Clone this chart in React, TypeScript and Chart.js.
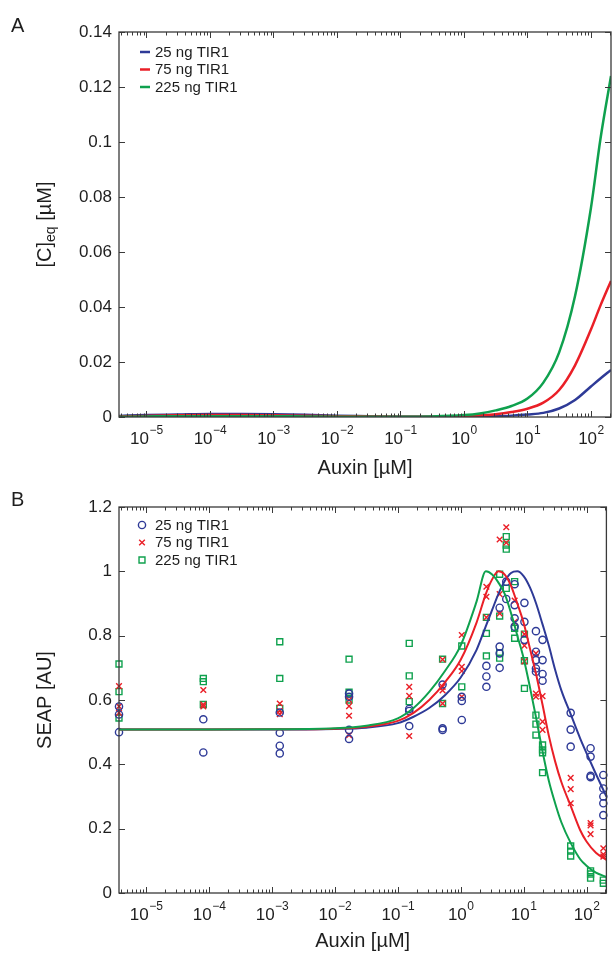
import React, { useEffect, useRef } from 'react';
import { Chart, registerables } from 'chart.js';

Chart.register(...registerables);

const FONT = '"Liberation Sans", Arial, Helvetica, sans-serif';
const BLUE = '#2E3A97';
const RED = '#EA1F27';
const GREEN = '#0FA14E';
const AXIS = '#3a3a3a';
const TEXT = '#1e1e1e';

const X_MIN = 3.7e-6;
const X_MAX = 207;
const xDecades = [-5, -4, -3, -2, -1, 0, 1, 2];

// ---------- Panel A: model complex [C]eq ----------
const auxinA = [3.7e-6, 1e-5, 3.16e-5, 1e-4, 3.16e-4, 1e-3, 3.16e-3, 1e-2, 3.16e-2, 0.1, 0.316, 1, 1.78, 3.16, 5.62, 10, 17.8, 31.6, 56.2, 100, 141, 207];
const cEq25 = [0.0004, 0.0007, 0.0009, 0.0011, 0.0011, 0.001, 0.0008, 0.0005, 0.0003, 0.0001, 0.0001, 0.0001, 0.0002, 0.0003, 0.0005, 0.0009, 0.0015, 0.0031, 0.0062, 0.0111, 0.014, 0.0171];
const cEq75 = [0.0002, 0.0004, 0.0006, 0.0007, 0.0007, 0.0006, 0.0005, 0.0003, 0.0002, 0.0001, 0.0001, 0.0003, 0.0006, 0.001, 0.0018, 0.003, 0.0052, 0.0098, 0.0188, 0.0318, 0.0405, 0.0495];
const cEq225 = [0.0001, 0.0002, 0.0003, 0.0003, 0.0003, 0.0003, 0.0002, 0.0001, 0.0001, 0.0001, 0.0002, 0.0007, 0.0013, 0.0024, 0.004, 0.0067, 0.0125, 0.0235, 0.044, 0.076, 0.101, 0.124];
const yTicksA = [0, 0.02, 0.04, 0.06, 0.08, 0.1, 0.12, 0.14];

// ---------- Panel B: SEAP measurements (replicates per concentration) ----------
const concB = [3.7e-6, 8.1e-5, 1.33e-3, 1.68e-2, 0.152, 0.515, 1.04, 2.56, 4.16, 5.3, 7.2, 10.3, 15.7, 20, 56, 116, 185];
const seap25 = [
  [0.58, 0.555, 0.5], [0.54, 0.437], [0.561, 0.498, 0.458, 0.434], [0.62, 0.61, 0.507, 0.479],
  [0.572, 0.566, 0.519], [0.648, 0.512, 0.507], [0.61, 0.597, 0.538], [0.706, 0.673, 0.641],
  [0.887, 0.766, 0.745, 0.7], [0.968, 0.914], [0.96, 0.895, 0.854, 0.828], [0.902, 0.843, 0.787],
  [0.814, 0.75, 0.724, 0.698, 0.688], [0.787, 0.724, 0.681, 0.66], [0.56, 0.508, 0.455],
  [0.45, 0.424, 0.364, 0.36], [0.367, 0.325, 0.3, 0.279, 0.242],
];
const seap75 = [
  [0.643, 0.58, 0.56], [0.631, 0.586, 0.58], [0.589, 0.566, 0.556], [0.6, 0.581, 0.551, 0.491],
  [0.641, 0.613, 0.488], [0.726, 0.641, 0.63, 0.589], [0.802, 0.703, 0.69, 0.61], [0.952, 0.921, 0.857],
  [1.099, 0.929, 0.869], [1.137, 1.089], [0.909, 0.843], [0.805, 0.769, 0.72],
  [0.745, 0.62, 0.61], [0.612, 0.533, 0.507], [0.358, 0.323, 0.279],
  [0.217, 0.21, 0.183], [0.139, 0.12, 0.113],
];
const seap225 = [
  [0.712, 0.626, 0.544], [0.667, 0.657, 0.586], [0.781, 0.667, 0.574], [0.727, 0.624, 0.6],
  [0.776, 0.675, 0.595], [0.727, 0.589], [0.768, 0.641], [0.857, 0.807, 0.737],
  [0.991, 0.861, 0.747, 0.73], [1.108, 1.082, 1.069, 0.947], [0.968, 0.823, 0.792], [0.805, 0.722, 0.636],
  [0.553, 0.525, 0.491], [0.46, 0.445, 0.436, 0.374], [0.146, 0.13, 0.115],
  [0.069, 0.059, 0.046], [0.04, 0.03],
];
// fitted model curves
const fitX = [3.7e-6, 1e-4, 1e-3, 1e-2, 3.16e-2, 0.1, 0.178, 0.316, 0.562, 1, 1.78, 2.51, 3.16, 3.98, 5.01, 6.31, 7.94, 10, 12.6, 15.8, 20, 25.1, 31.6, 39.8, 56.2, 79.4, 100, 141, 207];
const fit25 = [0.508, 0.508, 0.508, 0.51, 0.514, 0.528, 0.548, 0.575, 0.615, 0.67, 0.755, 0.83, 0.88, 0.93, 0.97, 0.995, 1.0, 0.985, 0.95, 0.9, 0.835, 0.77, 0.695, 0.63, 0.555, 0.48, 0.435, 0.37, 0.3];
const fit75 = [0.508, 0.508, 0.509, 0.511, 0.517, 0.535, 0.56, 0.6, 0.655, 0.725, 0.84, 0.93, 0.975, 1.0, 0.99, 0.955, 0.9, 0.84, 0.76, 0.68, 0.585, 0.49, 0.41, 0.345, 0.27, 0.195, 0.16, 0.125, 0.103];
const fit225 = [0.508, 0.508, 0.509, 0.512, 0.52, 0.543, 0.575, 0.625, 0.69, 0.77, 0.905, 1.0, 0.99, 0.965, 0.93, 0.87, 0.8, 0.73, 0.64, 0.545, 0.44, 0.35, 0.28, 0.22, 0.155, 0.105, 0.085, 0.063, 0.05];
const yTicksB = [0, 0.2, 0.4, 0.6, 0.8, 1, 1.2];

const seriesLabels = ['25 ng TIR1', '75 ng TIR1', '225 ng TIR1'];

// ---------- helpers ----------
const isDecade = (v: number) => Math.abs(Math.log10(v) - Math.round(Math.log10(v))) < 1e-6;

const xTickValues: number[] = [];
for (let d = xDecades[0] - 1; d <= xDecades[xDecades.length - 1]; d++) {
  for (let m = 1; m <= 9; m++) {
    const v = m * Math.pow(10, d);
    if (v >= X_MIN && v <= X_MAX) xTickValues.push(v);
  }
}

const pts = (xs: number[], ys: number[]) => xs.map((x, i) => ({ x, y: ys[i] }));
const reps = (cols: number[][]) => cols.flatMap((vals, i) => vals.map((y) => ({ x: concB[i], y })));

function xAxis(height: number) {
  return {
    type: 'logarithmic',
    min: X_MIN,
    max: X_MAX,
    afterBuildTicks: (s: any) => { s.ticks = xTickValues.map((v) => ({ value: v })); },
    afterFit: (s: any) => { s.height = height; },
    // decade labels (10 with a raised exponent) are drawn by the decor plugin
    ticks: { display: false, autoSkip: false, maxRotation: 0, minRotation: 0 },
    grid: { display: false, drawTicks: false },
    border: { display: false },
    title: { display: true, text: 'Auxin [µM]', color: TEXT, font: { family: FONT, size: 20 }, padding: { top: 0, bottom: 0 } },
  };
}

function yAxis(max: number, ticks: number[], title: any) {
  return {
    type: 'linear',
    min: 0,
    max,
    afterBuildTicks: (s: any) => { s.ticks = ticks.map((v) => ({ value: v })); },
    afterFit: (s: any) => { s.width = 119; },
    ticks: { padding: 7, color: TEXT, font: { family: FONT, size: 17 }, callback: (v: any) => String(+Number(v).toFixed(3)) },
    grid: { display: false, drawTicks: false },
    border: { display: false },
    title,
  };
}

function drawMarker(ctx: CanvasRenderingContext2D, style: string, x: number, y: number, r: number, color: string, lw: number) {
  ctx.save();
  ctx.strokeStyle = color;
  ctx.lineWidth = lw;
  ctx.beginPath();
  if (style === 'circle') {
    ctx.arc(x, y, r, 0, Math.PI * 2);
  } else if (style === 'crossRot') {
    const o = r * Math.SQRT1_2;
    ctx.moveTo(x - o, y - o); ctx.lineTo(x + o, y + o);
    ctx.moveTo(x + o, y - o); ctx.lineTo(x - o, y + o);
  } else {
    const s = r * Math.SQRT1_2;
    ctx.rect(x - s, y - s, 2 * s, 2 * s);
  }
  ctx.stroke();
  ctx.restore();
}

// frame, inward tick marks, decade tick labels, panel letter, custom y-title, legend
const decor = {
  id: 'decor',
  afterDraw(chart: any, _args: any, opts: any) {
    const { ctx, chartArea } = chart;
    const { left, right, top, bottom } = chartArea;
    const xs = chart.scales.x;
    const ys = chart.scales.y;
    ctx.save();
    ctx.strokeStyle = AXIS;
    ctx.lineWidth = 1;
    ctx.beginPath();
    xs.ticks.forEach((t: any) => {
      const px = Math.round(xs.getPixelForValue(t.value)) + 0.5;
      const len = isDecade(t.value) ? 6 : 3.5;
      ctx.moveTo(px, bottom); ctx.lineTo(px, bottom - len);
      ctx.moveTo(px, top); ctx.lineTo(px, top + len);
    });
    ys.ticks.forEach((t: any) => {
      const py = Math.round(ys.getPixelForValue(t.value)) + 0.5;
      ctx.moveTo(left, py); ctx.lineTo(left + 6, py);
      ctx.moveTo(right, py); ctx.lineTo(right - 6, py);
    });
    ctx.stroke();
    ctx.lineWidth = 1.3;
    ctx.strokeRect(left, top, right - left, bottom - top);

    // x decade labels: "10" with superscript exponent
    ctx.fillStyle = TEXT;
    ctx.textAlign = 'left';
    ctx.textBaseline = 'alphabetic';
    const base = bottom + 26.5;
    xDecades.forEach((d) => {
      const px = xs.getPixelForValue(Math.pow(10, d));
      const expo = d < 0 ? '\u2212' + String(-d) : String(d);
      ctx.font = `17px ${FONT}`;
      const w1 = ctx.measureText('10').width;
      ctx.font = `12px ${FONT}`;
      const w2 = ctx.measureText(expo).width;
      const x0 = px - (w1 + w2) / 2;
      ctx.font = `17px ${FONT}`;
      ctx.fillText('10', x0, base);
      ctx.font = `12px ${FONT}`;
      ctx.fillText(expo, x0 + w1 + 0.5, base - 9.5);
    });

    // panel letter
    ctx.font = `20px ${FONT}`;
    ctx.fillText(opts.letter, 11, opts.letterY);

    // custom y title with subscript
    if (opts.yTitle) {
      const cy = (top + bottom) / 2;
      let total = 0;
      opts.yTitle.forEach((p: any) => { ctx.font = `${p.size}px ${FONT}`; total += ctx.measureText(p.t).width; });
      ctx.save();
      ctx.translate(45, cy);
      ctx.rotate(-Math.PI / 2);
      ctx.textBaseline = 'middle';
      let x = -total / 2;
      opts.yTitle.forEach((p: any) => {
        ctx.font = `${p.size}px ${FONT}`;
        ctx.fillText(p.t, x, p.dy);
        x += ctx.measureText(p.t).width;
      });
      ctx.restore();
    }

    // legend
    if (opts.legend) {
      const L = opts.legend;
      ctx.font = `15px ${FONT}`;
      ctx.textBaseline = 'middle';
      L.indices.forEach((di: number, i: number) => {
        const ds = chart.data.datasets[di];
        const y = L.y + i * L.gap;
        if (L.kind === 'line') {
          ctx.strokeStyle = ds.borderColor;
          ctx.lineWidth = 2.5;
          ctx.beginPath();
          ctx.moveTo(L.x - 5, y); ctx.lineTo(L.x + 5, y);
          ctx.stroke();
        } else {
          drawMarker(ctx, ds.pointStyle, L.x, y, ds.pointRadius, ds.pointBorderColor, ds.pointBorderWidth);
        }
        ctx.fillStyle = TEXT;
        ctx.fillText(ds.label, L.textX, y + 0.5);
      });
    }
    ctx.restore();
  },
};

function configA() {
  const line = (label: string, ys: number[], color: string, order: number) => ({
    label, data: pts(auxinA, ys), showLine: true, borderColor: color, borderWidth: 2.5,
    pointRadius: 0, cubicInterpolationMode: 'monotone', fill: false, order,
  });
  return {
    type: 'scatter',
    data: {
      datasets: [
        line(seriesLabels[0], cEq25, BLUE, 3),
        line(seriesLabels[1], cEq75, RED, 2),
        line(seriesLabels[2], cEq225, GREEN, 1),
      ],
    },
    options: {
      responsive: false,
      animation: false,
      devicePixelRatio: 1,
      events: [],
      layout: { padding: { top: 32, left: 0, right: 1, bottom: 0 } },
      scales: {
        x: xAxis(63),
        y: yAxis(0.14, yTicksA, { display: false }),
      },
      plugins: {
        legend: { display: false },
        tooltip: { enabled: false },
        decor: {
          letter: 'A', letterY: 32,
          yTitle: [
            { t: '[C]', size: 20, dy: 0 },
            { t: 'eq', size: 14, dy: 6 },
            { t: ' [µM]', size: 20, dy: 0 },
          ],
          legend: { kind: 'line', indices: [0, 1, 2], x: 145, textX: 155, y: 52, gap: 17.5 },
        },
      },
    },
    plugins: [decor],
  };
}

function configB() {
  const marks = (label: string, cols: number[][], color: string, style: string, r: number) => ({
    label, data: reps(cols), showLine: false, pointStyle: style, pointRadius: r,
    pointBorderWidth: 1.4, pointBorderColor: color, pointBackgroundColor: 'rgba(0,0,0,0)',
    borderColor: color, clip: false, order: 5,
  });
  const curve = (label: string, ys: number[], color: string, order: number) => ({
    label, data: pts(fitX, ys), showLine: true, borderColor: color, borderWidth: 2,
    pointRadius: 0, cubicInterpolationMode: 'monotone', fill: false, order,
  });
  return {
    type: 'scatter',
    data: {
      datasets: [
        marks(seriesLabels[0], seap25, BLUE, 'circle', 3.6),
        marks(seriesLabels[1], seap75, RED, 'crossRot', 4),
        marks(seriesLabels[2], seap225, GREEN, 'rect', 4.2),
        curve(seriesLabels[0] + ' fit', fit25, BLUE, 3),
        curve(seriesLabels[1] + ' fit', fit75, RED, 2),
        curve(seriesLabels[2] + ' fit', fit225, GREEN, 1),
      ],
    },
    options: {
      responsive: false,
      animation: false,
      devicePixelRatio: 1,
      events: [],
      layout: { padding: { top: 27, left: 0, right: 1, bottom: 0 } },
      scales: {
        x: xAxis(60),
        y: yAxis(1.2, yTicksB, {
          display: true, text: 'SEAP [AU]', color: TEXT,
          font: { family: FONT, size: 20 }, padding: { top: 33, bottom: 0 },
        }),
      },
      plugins: {
        legend: { display: false },
        tooltip: { enabled: false },
        decor: {
          letter: 'B', letterY: 26,
          legend: { kind: 'marker', indices: [0, 1, 2], x: 142, textX: 155, y: 45, gap: 17.5 },
        },
      },
    },
    plugins: [decor],
  };
}

function Panel({ make, top, height }: { make: () => any; top: number; height: number }) {
  const ref = useRef<HTMLCanvasElement | null>(null);
  useEffect(() => {
    if (!ref.current) return;
    const chart = new Chart(ref.current, make());
    return () => chart.destroy();
  }, []);
  return (
    <canvas
      ref={ref}
      width={612}
      height={height}
      style={{ position: 'absolute', left: 0, top, width: 612, height, display: 'block' }}
    />
  );
}

export default function App() {
  return (
    <div style={{ position: 'absolute', left: 0, top: 0, width: 612, height: 953, background: '#ffffff', overflow: 'hidden' }}>
      <Panel make={configA} top={0} height={480} />
      <Panel make={configB} top={480} height={473} />
    </div>
  );
}
